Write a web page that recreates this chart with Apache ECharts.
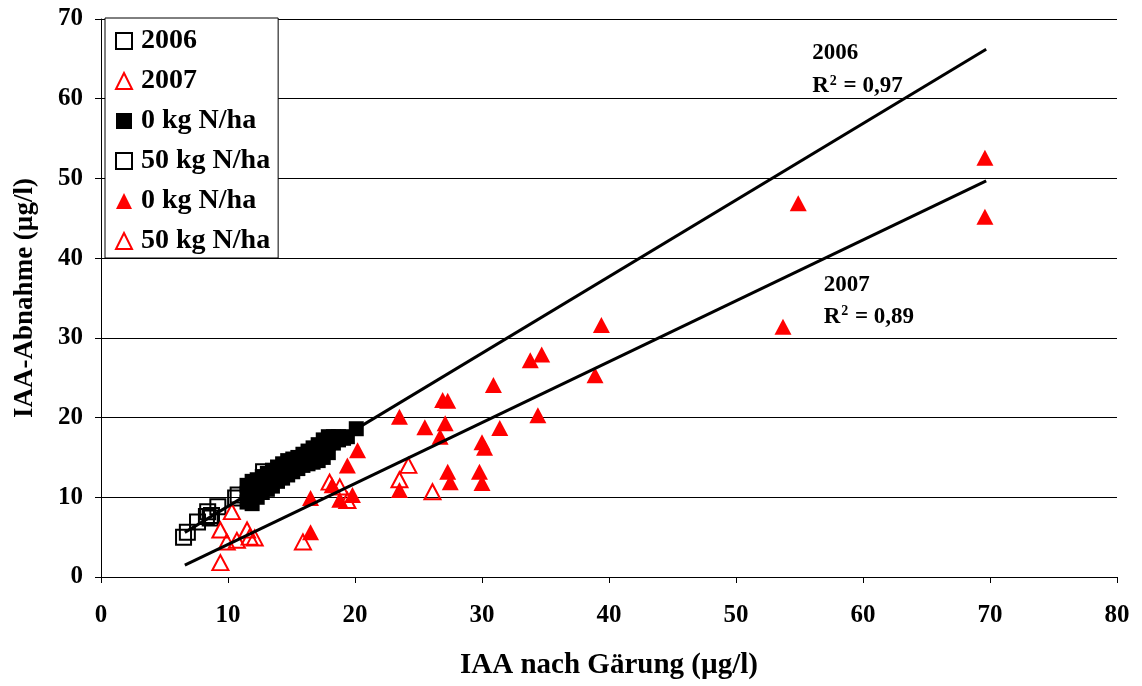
<!DOCTYPE html>
<html>
<head>
<meta charset="utf-8">
<script src="https://cdn.jsdelivr.net/npm/echarts@6/dist/echarts.min.js"></script>
<style>
  html, body { margin: 0; padding: 0; background: #fff; }
  #chart { width: 1142px; height: 686px; }
</style>
</head>
<body>
<div id="chart"></div>
<script>
// IAA uptake vs. IAA after fermentation, 2006 and 2007 trials
const xTicks = { min: 0, max: 80, interval: 10 };
const yTicks = { min: 0, max: 70, interval: 10 };

// 2006, 0 kg N/ha
const n0_2006 = [
  [11.5, 9.4], [11.5, 10.5], [11.5, 11.5], [11.9, 9.2], [11.9, 10.2], [11.9, 11.2], [11.9, 12.0],
  [12.3, 10.0], [12.3, 11.0], [12.3, 12.2], [12.7, 10.6], [12.7, 11.6], [12.7, 12.6],
  [13.1, 11.0], [13.1, 12.0], [13.1, 13.0], [13.5, 11.4], [13.5, 12.4], [13.5, 13.4],
  [13.9, 12.0], [13.9, 13.0], [13.9, 13.8], [14.3, 12.4], [14.3, 13.4], [14.3, 14.2],
  [14.7, 12.8], [14.7, 13.8], [14.7, 14.6], [15.1, 13.2], [15.1, 14.2], [15.1, 14.8],
  [15.5, 13.6], [15.5, 14.4], [15.5, 15.0], [15.9, 14.0], [15.9, 14.8], [15.9, 15.4],
  [16.3, 14.2], [16.3, 15.2], [16.3, 15.8], [16.7, 14.4], [16.7, 15.6], [16.7, 16.2],
  [17.1, 14.6], [17.1, 15.8], [17.1, 16.6], [17.5, 15.0], [17.5, 16.4], [17.5, 17.2],
  [17.9, 15.6], [17.9, 16.8], [17.9, 17.6], [18.3, 16.8], [18.3, 17.6], [18.7, 17.2],
  [18.7, 17.6], [19.1, 17.4], [19.4, 17.6], [20.1, 18.6]
];
// 2006, 50 kg N/ha
const n50_2006 = [
  [6.5, 5.0], [6.8, 5.6], [7.6, 6.9], [8.4, 8.2], [8.6, 7.4], [8.7, 7.7],
  [9.2, 8.8], [8.3, 7.6], [10.6, 9.9], [10.8, 10.3], [12.8, 13.2], [13.3, 12.6]
];
// 2007, 0 kg N/ha
const n0_2007 = [
  [16.5, 5.6], [16.5, 9.9], [18.2, 11.5], [18.8, 9.7], [19.8, 10.3], [19.4, 14.0],
  [20.2, 15.9], [23.5, 20.1], [23.5, 10.9], [25.5, 18.8], [26.7, 17.6], [27.1, 19.3],
  [26.9, 22.2], [27.3, 22.1], [27.3, 13.2], [27.5, 11.9], [29.8, 13.2], [30.0, 11.8],
  [30.0, 16.9], [30.2, 16.2], [30.9, 24.1], [31.4, 18.7], [33.8, 27.2], [34.7, 27.9],
  [34.4, 20.3], [38.9, 25.3], [39.4, 31.6], [53.7, 31.4], [54.9, 46.9], [69.6, 52.6],
  [69.6, 45.2]
];
// 2007, 50 kg N/ha
const n50_2007 = [
  [9.4, 1.8], [9.4, 5.9], [9.9, 4.4], [10.3, 8.2], [10.7, 4.6], [11.5, 5.9],
  [11.7, 5.0], [12.1, 4.9], [15.9, 4.4], [18.0, 11.9], [18.8, 11.3], [19.4, 9.6],
  [23.5, 12.2], [24.2, 14.0], [26.1, 10.7]
];
// linear trend lines (end points)
const trend2006 = [[6.6, 5.6], [69.7, 66.2]];
const trend2007 = [[6.6, 1.5], [69.7, 49.7]];

// legend labels
const legendLabels = {
  y2006: '2006', y2007: '2007',
  n0_2006: '0 kg N/ha', n50_2006: '50 kg N/ha',
  n0_2007: '0 kg N/ha', n50_2007: '50 kg N/ha'
};
// trend annotations: [x, y of first line, y of second line, title, r2]
const notes = [
  [56.0, 65.7, 61.6, '2006', '0,97'],
  [56.9, 36.6, 32.7, '2007', '0,89']
];

const SERIF = '"Liberation Serif", "Times New Roman", serif';
const RED = '#ff0000';

const openSquare = { color: 'rgba(0,0,0,0)', borderColor: '#000', borderWidth: 2, opacity: 1 };
const filledSquare = { color: '#000', borderColor: '#000', borderWidth: 0, opacity: 1 };
const openTri = { color: 'rgba(0,0,0,0)', borderColor: RED, borderWidth: 2, opacity: 1 };
const filledTri = { color: RED, borderColor: RED, borderWidth: 0, opacity: 1 };

const chart = echarts.init(document.getElementById('chart'), null, { renderer: 'canvas' });

function scatter(name, data, symbol, size, style, z) {
  return {
    name, type: 'scatter', data, symbol, symbolSize: size,
    itemStyle: style, z, emphasis: { disabled: true }, silent: true
  };
}

chart.setOption({
  animation: false,
  backgroundColor: '#fff',
  grid: { left: 101, right: 25, top: 19, bottom: 109, containLabel: false, outerBoundsMode: 'none' },
  xAxis: {
    type: 'value', min: xTicks.min, max: xTicks.max, interval: xTicks.interval,
    name: 'IAA nach Gärung (µg/l)', nameLocation: 'middle', nameGap: 74,
    nameTextStyle: { fontFamily: SERIF, fontWeight: 'bold', fontSize: 29, color: '#000' },
    axisLine: { show: true, onZero: false, lineStyle: { color: '#000', width: 1 } },
    axisTick: { show: true, inside: false, length: 6, lineStyle: { color: '#000' } },
    axisLabel: { margin: 26, fontFamily: SERIF, fontWeight: 'bold', fontSize: 25, color: '#000' },
    splitLine: { show: false }
  },
  yAxis: {
    type: 'value', min: yTicks.min, max: yTicks.max, interval: yTicks.interval,
    name: 'IAA-Abnahme (µg/l)', nameLocation: 'middle', nameGap: 62, nameRotate: 90,
    nameTextStyle: { fontFamily: SERIF, fontWeight: 'bold', fontSize: 27, color: '#000' },
    axisLine: { show: true, onZero: false, lineStyle: { color: '#000', width: 1 } },
    axisTick: { show: true, inside: false, length: 6, lineStyle: { color: '#000' } },
    axisLabel: { margin: 18, fontFamily: SERIF, fontWeight: 'bold', fontSize: 25, color: '#000' },
    splitLine: { show: true, lineStyle: { color: '#000', width: 1 } }
  },
  legend: {
    orient: 'vertical', left: 105, top: 18,
    padding: [9, 8, 3, 10], itemGap: 12,
    itemWidth: 16, itemHeight: 16,
    backgroundColor: '#fff', borderColor: '#000', borderWidth: 1,
    selectedMode: false,
    textStyle: { fontFamily: SERIF, fontWeight: 'bold', fontSize: 28, color: '#000', padding: [0, 0, 0, 4] },
    data: Object.keys(legendLabels),
    formatter: (n) => legendLabels[n]
  },
  series: [
    scatter('y2006', [], 'rect', 15, openSquare, 2),
    scatter('y2007', [], 'triangle', 16, openTri, 2),
    scatter('n0_2006', n0_2006, 'rect', 15, filledSquare, 3),
    scatter('n50_2006', n50_2006, 'rect', 15, openSquare, 4),
    scatter('n0_2007', n0_2007, 'triangle', [17, 16], filledTri, 5),
    scatter('n50_2007', n50_2007, 'triangle', [16, 15], openTri, 6),
    {
      name: 'trend2006', type: 'line', data: trend2006, symbol: 'none', z: 7,
      lineStyle: { color: '#000', width: 3 }, silent: true
    },
    {
      name: 'trend2007', type: 'line', data: trend2007, symbol: 'none', z: 7,
      lineStyle: { color: '#000', width: 3 }, silent: true
    }
  ]
});

// R² annotations placed in data coordinates
const textStyleBase = { fontFamily: SERIF, fontWeight: 'bold', fontSize: 23, fill: '#000' };
const graphics = [];
notes.forEach(([x, y1, y2, title, r2]) => {
  const p1 = chart.convertToPixel({ gridIndex: 0 }, [x, y1]);
  const p2 = chart.convertToPixel({ gridIndex: 0 }, [x, y2]);
  graphics.push({
    type: 'text', x: p1[0], y: p1[1], z: 20,
    style: Object.assign({ text: title, verticalAlign: 'middle' }, textStyleBase)
  });
  graphics.push({
    type: 'text', x: p2[0], y: p2[1], z: 20,
    style: {
      text: '{t|R}{s|2}{t| = ' + r2 + '}',
      verticalAlign: 'middle',
      rich: {
        t: { fontFamily: SERIF, fontWeight: 'bold', fontSize: 23, lineHeight: 24, color: '#000', verticalAlign: 'bottom' },
        s: { fontFamily: SERIF, fontWeight: 'bold', fontSize: 14, lineHeight: 14, color: '#000', verticalAlign: 'top', padding: [0, 1, 0, 1] }
      }
    }
  });
});
chart.setOption({ graphic: graphics });
</script>
</body>
</html>
